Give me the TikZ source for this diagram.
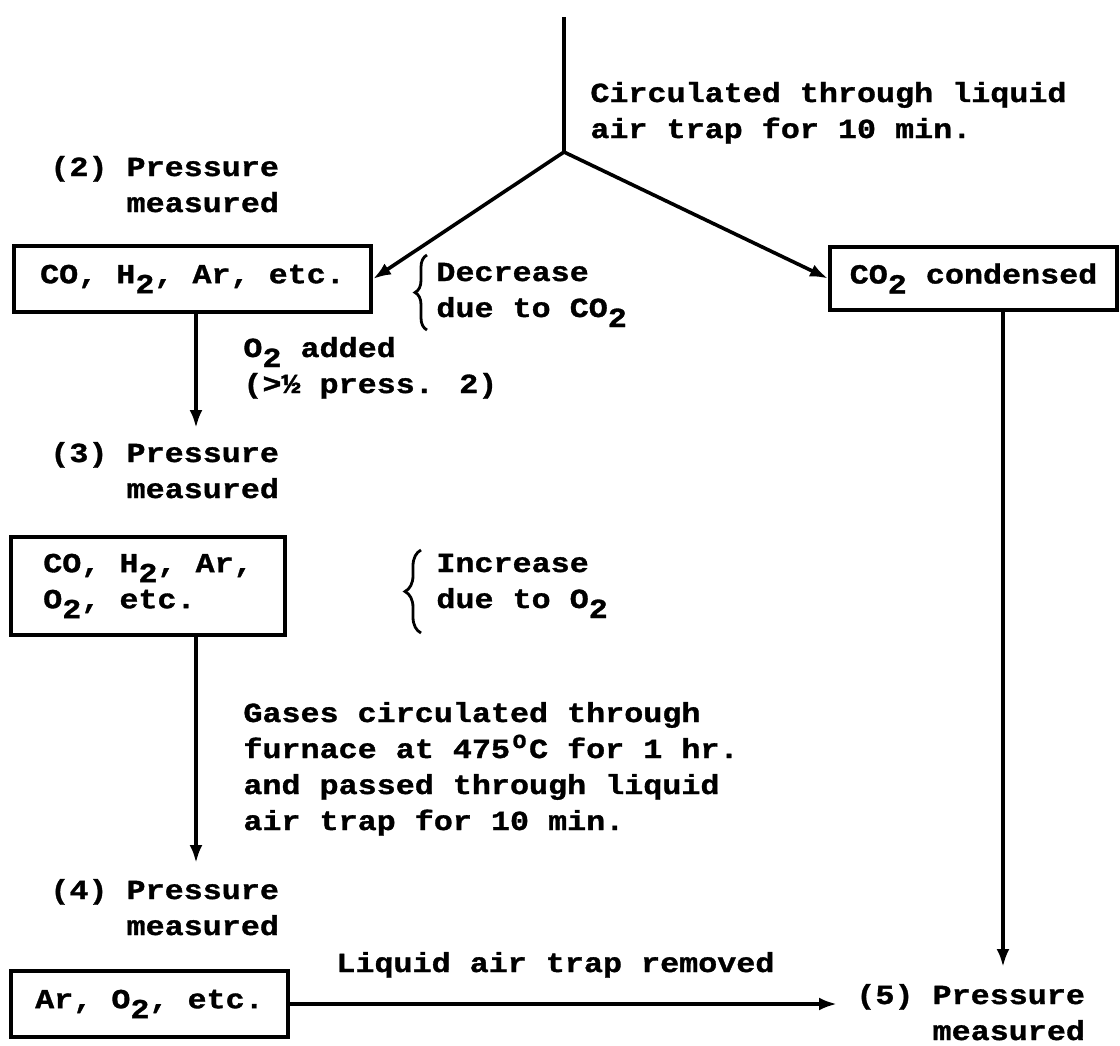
\documentclass[tikz,border=0pt]{standalone}
\usepackage{fontspec}
\setmainfont{Liberation Mono}[FakeStretch=1.15,BoldFeatures={FakeBold=1.2}]
\usepackage{tikz}
\usetikzlibrary{
arrows.meta,
positioning,
decorations.pathreplacing
}
\newcommand{\dtwo}{\raisebox{-5pt}{2}}
\newcommand{\degO}{\makebox[9.5pt]{\raisebox{5pt}{\fontsize{10}{10}\selectfont O}}}

\begin{document}
\begin{tikzpicture}[
x=0.5pt,y=-0.5pt,
every node/.style={font=\fontsize{13.8}{18}\selectfont\bfseries,inner sep=0pt},
box/.style={
draw,
line width=2pt,
align=left
},
note/.style={anchor=base west,align=left},
meas/.style={anchor=base west,align=right},
arrow/.style={-{Latex[length=9pt,width=6.5pt]},line width=1.8pt},
brc/.style={decorate,decoration={brace,amplitude=#1},line width=1.4pt}
]
\useasboundingbox (0,0) rectangle (1120,1045);

\coordinate (top) at (564,17);
\coordinate (split) at (564,152);

% text nodes sit on the baseline of their last line
\node[note] (circ) at (590,138) {Circulated through liquid\\air trap for 10 min.};

\node[meas] (lab2) at (50,212) {(2) Pressure\\measured};
\node[box,minimum width=178.5pt,minimum height=33pt] (gas2) at (192.5,279) {CO, H\dtwo, Ar, etc.};
\node[box,minimum width=143.5pt,minimum height=31.5pt] (cond) at (973.5,278.5) {CO\dtwo{} condensed};
\node[note] (dec) at (436,317) {Decrease\\due to CO\dtwo};
\node[note] (added) at (243,393) {O\dtwo{} added\\(>½ press. 2)};

\coordinate (m3) at (196,428);
\node[meas] (lab3) at (50,498) {(3) Pressure\\measured};
\node[box,minimum width=137pt,minimum height=49pt] (gas3) at (148,586) {CO, H\dtwo, Ar,\\O\dtwo, etc.};
\node[note] (inc) at (436,608) {Increase\\due to O\dtwo};
\node[note] (gases) at (243,830) {Gases circulated through\\furnace at 475\degO{}C for 1 hr.\\and passed through liquid\\air trap for 10 min.};

\coordinate (m4) at (196,863);
\node[meas] (lab4) at (50,935) {(4) Pressure\\measured};
\node[box,minimum width=138.5pt,minimum height=33pt] (gas4) at (149.5,1004) {Ar, O\dtwo, etc.};
\node[note] (liquid) at (336,972) {Liquid air trap removed};

\coordinate (m5) at (1003,967);
\coordinate (m6) at (837,1004);
\node[meas] (lab5) at (856,1040) {(5) Pressure\\measured};

% connectors
\draw[line width=1.8pt] (top) -- (split);
\draw[arrow] (split) -- (gas2.east);
\draw[arrow] (split) -- (cond.west);
\draw[arrow] (gas2.south -| m3) -- (m3);
\draw[arrow] (gas3.south -| m4) -- (m4);
\draw[arrow] (cond.south -| m5) -- (m5);
\draw[arrow] (gas4.east) -- (m6);

% braces
\draw[brc=6pt] (427,330) -- (427,255);
\draw[brc=8pt] (421,633) -- (421,550);

\end{tikzpicture}
\end{document}
